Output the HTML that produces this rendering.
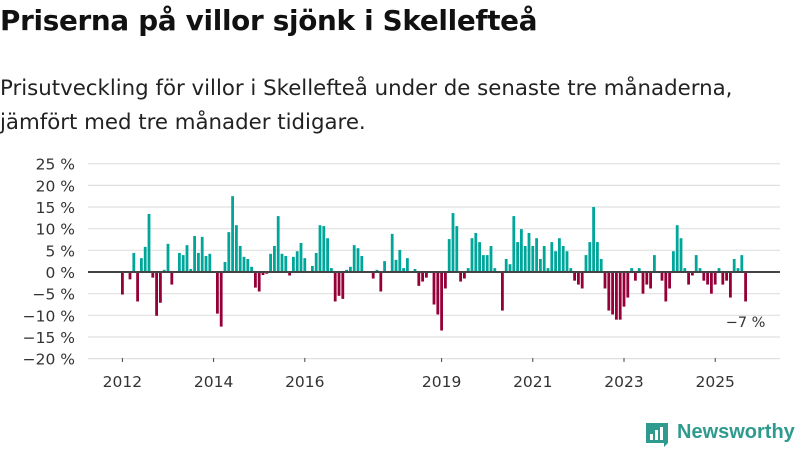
<!DOCTYPE html>
<html><head><meta charset="utf-8"><style>
body{margin:0;width:800px;height:450px;background:#fff;font-family:"DejaVu Sans",sans-serif;overflow:hidden;position:relative}
h1{position:absolute;left:0;top:4px;margin:0;font-size:27.8px;font-weight:bold;color:#111;letter-spacing:-0.3px}
.sub{position:absolute;left:0;top:72px;margin:0;font-size:21.3px;line-height:34px;color:#222}
svg{position:absolute;left:0;top:0}
.logo{position:absolute;left:677px;top:421px;font-size:20px;font-weight:bold;color:#2f9a8e;font-family:"Liberation Sans",sans-serif}
</style></head><body>
<h1>Priserna på villor sjönk i Skellefteå</h1>
<p class="sub">Prisutveckling för villor i Skellefteå under de senaste tre månaderna,<br>jämfört med tre månader tidigare.</p>
<svg id="chart" width="800" height="450"></svg>
<svg width="800" height="450" style="pointer-events:none">
<path d="M646 423 h22 v20 l-4 4 v-4 h-18 z" fill="#2f9a8e"/>
<rect x="650" y="434" width="3" height="6" fill="#fff"/><rect x="655" y="430" width="3" height="10" fill="#fff"/><rect x="660" y="427" width="3" height="13" fill="#fff"/>
</svg>
<div class="logo">Newsworthy</div>
<script>
const values = [-5.2,0,-1.7,4.4,-6.8,3.2,5.8,13.4,-1.3,-10.1,-7.1,0.5,6.5,-2.9,0,4.4,3.9,6.2,0.7,8.3,4.4,8.1,3.7,4.2,
0,-9.6,-12.6,2.3,9.2,17.5,10.8,6,3.5,3,1.2,-3.6,-4.5,-0.7,-0.4,4.2,6.0,12.9,4.2,3.7,-0.8,3.5,4.8,6.7,
3.2,0,1.4,4.4,10.8,10.6,7.8,0.9,-6.8,-5.5,-6.2,0.5,1.2,6.2,5.5,3.7,0,0,-1.5,0.5,-4.5,2.5,0,8.8,
2.8,5.1,0.9,3.2,0,0.7,-3.2,-2.2,-1.3,0,-7.5,-9.8,-13.5,-3.8,7.6,13.6,10.6,-2.2,-1.5,0.9,7.8,9,
6.9,3.9,3.9,6,0.9,0,-8.9,3,1.8,12.9,6.9,9.9,6,9,6,7.8,3,6,0.9,6.9,4.8,7.8,6,4.8,
0.9,-2,-2.9,-3.8,3.9,6.9,15,6.9,3,-3.8,-8.9,-9.8,-11,-11,-8,-5.9,0.9,-2,0.9,-5,-2.9,-3.8,3.9,0,
-2,-6.8,-3.8,4.8,10.8,7.8,0.9,-2.9,-0.8,3.9,0.9,-2,-2.9,-5,-2.9,0.9,-2.9,-2,-5.9,3,0.9,3.9,-6.8];
const yTicks = [25,20,15,10,5,0,-5,-10,-15,-20];
const yearLabels = ["2012","2014","2016","2019","2021","2023","2025"];
const yearIndex = [0,24,48,84,108,132,156];
const lastLabel = "−7 %";

const NS="http://www.w3.org/2000/svg", svg=document.getElementById('chart');
const FONT='DejaVu Sans, sans-serif';
const y = v => 272 - v*4.333;
const x = i => 122.4 + 3.8*i;
function mk(t,a){const e=document.createElementNS(NS,t);for(const k in a)e.setAttribute(k,a[k]);svg.appendChild(e);return e;}
yTicks.forEach(v=>{
  const g=mk('line',{x1:88,x2:780,y1:y(v),y2:y(v),stroke:'#e0e0e0','stroke-width':1.2});
  
  
  const t=mk('text',{x:75,y:y(v)+6,'text-anchor':'end','font-size':15.5,fill:'#333','font-family':FONT});
  t.textContent=(v<0?'−'+(-v):v)+' %';
  
  
});
values.forEach((v,i)=>{
  if(v===0)return;
  const r=mk('rect',{x:x(i)-1.4,width:2.8,y:Math.min(y(v),y(0)),height:Math.abs(y(v)-y(0)),fill:v>0?'#00a69a':'#960038'});
  
  
});
const z=mk('line',{x1:88,x2:780,y1:y(0),y2:y(0),stroke:'#444','stroke-width':2});


yearLabels.forEach((l,k)=>{
  const tk=mk('line',{x1:x(yearIndex[k]),x2:x(yearIndex[k]),y1:358,y2:362,stroke:'#444','stroke-width':1});
  
  
  const t=mk('text',{x:x(yearIndex[k]),y:387,'text-anchor':'middle','font-size':15.5,fill:'#333','font-family':FONT});
  t.textContent=l;
  
  
});
const ll=mk('text',{x:x(values.length-1),y:327,'text-anchor':'middle','font-size':14.5,fill:'#333','font-family':FONT});
ll.textContent=lastLabel;


</script>
</body></html>
